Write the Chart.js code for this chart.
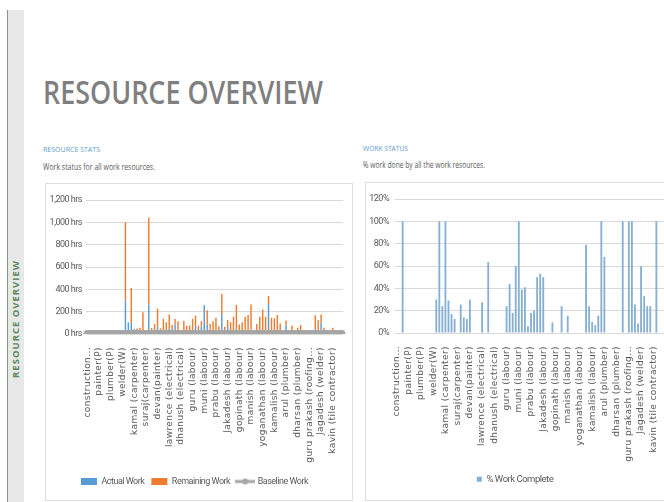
<!DOCTYPE html>
<html>
<head>
<meta charset="utf-8">
<script src="https://cdn.jsdelivr.net/npm/chart.js@4.4.1/dist/chart.umd.min.js"></script>
<style>
  html, body { margin: 0; padding: 0; background: #fff; }
  body { width: 664px; height: 502px; position: relative; overflow: hidden; font-family: "Open Sans", sans-serif; }
  .band { position: absolute; left: 7px; top: 10px; width: 16px; height: 492px; background: #e8e8e8; border-left: 1px solid #7f9a80; }
  .bandText { position: absolute; left: 15px; top: 319px; transform: translate(-50%, -50%) rotate(-90deg); color: #5c8a5c; font: bold 9.5px "Open Sans", sans-serif; letter-spacing: 1px; white-space: nowrap; }
  .txt { position: absolute; white-space: nowrap; transform-origin: 0 50%; }
  .title { left: 43px; top: 72px; font-size: 32px; font-weight: 600; color: #7f7f7f; line-height: 40px; }
  .sec { font-size: 8px; color: #5f9ccd; line-height: 10px; }
  .sub { font-size: 9px; color: #595959; line-height: 12px; }
  .box { position: absolute; border: 1px solid #dedede; background: #fff; }
  .box canvas { position: absolute; left: 0; top: 0; }
</style>
</head>
<body>
<div class="band"></div>
<div class="bandText">RESOURCE OVERVIEW</div>
<div class="txt title" id="title" data-w="280">RESOURCE OVERVIEW</div>
<div class="txt sec" style="left:43px;top:144px" data-w="57">RESOURCE STATS</div>
<div class="txt sub" style="left:43px;top:161px" data-w="112">Work status for all work resources.</div>
<div class="txt sec" style="left:363px;top:143px" data-w="45">WORK STATUS</div>
<div class="txt sub" style="left:363px;top:159px" data-w="122">% work done by all the work resources.</div>

<div class="box" style="left:45px;top:183px;width:306px;height:316px">
  <canvas id="statsChart" width="306" height="316"></canvas>
</div>
<div class="box" style="left:365px;top:182px;width:320px;height:317px">
  <canvas id="statusChart" width="299" height="317"></canvas>
</div>

<script>
// nombres visibles en el eje (uno cada 4 recursos)
const shownNames = ['construction...', 'painter(P)', 'plumber(P)', 'welder(W)', 'kamal (carpenter)',
  'suraj(carpenter)', 'devan(painter)', 'lawrence (electrical)', 'dhanush (electrical)', 'guru (labour)',
  'muni (labour)', 'prabu (labour)', 'Jakadesh (labour)', 'gopinath (labour)', 'manish (labour)',
  'yoganathan (labour)', 'kamalish (labour)', 'arul (plumber)', 'dharsan (plumber)',
  'guru prakash (roofing...', 'Jagadesh (welder)', 'kavin (tile contractor)'];
const resourceCount = 88;

// horas trabajadas
const actualWork = [0,0,6,0,0,0,0,0,0,0,
  0,0,0,300,105,99,45,15,9,24,
  0,266,8,11,68,0,0,0,48,0,
  86,0,0,0,0,0,32,73,14,69,
  258,83,37,7,26,14,180,34,63,0,
  0,25,0,0,37,0,41,0,0,0,
  0,0,269,35,14,12,15,12,82,0,
  0,0,0,0,10,0,8,10,43,10,
  105,18,7,7,0,10,0,0];

// horas restantes
const remainingWork = [0,0,0,0,0,0,0,0,0,0,
  0,0,0,700,0,314,0,35,46,171,
  0,776,47,79,160,50,135,105,126,80,
  49,115,0,118,75,75,103,92,61,46,
  0,130,53,108,119,56,180,31,62,105,
  155,235,85,105,118,170,224,0,90,155,
  220,155,71,110,126,158,80,0,38,0,
  75,0,55,80,0,0,0,0,125,113,
  70,37,23,23,55,0,0,0];

// linea base (todo en cero)
const baselineWork = [0,0,0,0,0,0,0,0,0,0,
  0,0,0,0,0,0,0,0,0,0,
  0,0,0,0,0,0,0,0,0,0,
  0,0,0,0,0,0,0,0,0,0,
  0,0,0,0,0,0,0,0,0,0,
  0,0,0,0,0,0,0,0,0,0,
  0,0,0,0,0,0,0,0,0,0,
  0,0,0,0,0,0,0,0,0,0,
  0,0,0,0,0,0,0,0];

// % de trabajo completo
const pctComplete = [0,0,100,0,0,0,0,0,0,0,
  0,0,0,30,100,24,100,29,17,12.5,
  0,25.5,14,12.5,30,0,0,0,27.5,0,
  63.5,0,0,0,0,0,24,44,18,60,
  100,39,41,6,18,20,50,53,50,0,
  0,9.5,0,0,24,0,15.5,0,0,0,
  0,0,79,24,10,7,15.5,100,68,0,
  0,0,0,0,100,0,100,100,25.5,8.5,
  60,33,24,24,0,100,0,0];

const hrsTicks = [0, 200, 400, 600, 800, 1000, 1200];
const pctTicks = [0, 20, 40, 60, 80, 100, 120];

const categories = [];
for (let i = 0; i < resourceCount; i++) {
  categories.push(i % 4 === 0 && shownNames[i / 4] ? shownNames[i / 4] : '');
}

// ajustar textos condensados al ancho del original
document.querySelectorAll('.txt').forEach(el => {
  const w = el.getBoundingClientRect().width;
  el.style.transform = 'scaleX(' + (el.dataset.w / w) + ')';
});

const gray = '#595959';
const narrow = 'Roboto, sans-serif';
const axisFont = { family: '"DejaVu Sans", sans-serif', size: 9 };

// texto angosto tipo Calibri, y etiquetas del eje x mas espaciadas
const squeeze = {
  id: 'squeeze',
  beforeLayout(chart) { chart.ctx.letterSpacing = '-0.5px'; },
  beforeDraw(chart) {
    chart.ctx.letterSpacing = '-0.5px';
    const sx = chart.scales.x;
    if (!sx._wide) {
      const orig = sx.drawLabels;
      sx.drawLabels = function (area) {
        const c = this.ctx;
        c.letterSpacing = '0.4px';
        orig.call(this, area);
        c.letterSpacing = '-0.5px';
      };
      sx._wide = true;
    }
  }
};

// eje x: alto fijo y sin margen extra a los lados
function fixX(height) {
  return s => {
    s.height = height;
    s.paddingLeft = 0;
    s.paddingRight = 0;
  };
}

// icono de la linea base para la leyenda
const baseIcon = document.createElement('canvas');
baseIcon.width = 20; baseIcon.height = 8;
const bctx = baseIcon.getContext('2d');
bctx.strokeStyle = '#a5a5a5'; bctx.lineWidth = 3;
bctx.beginPath(); bctx.moveTo(0, 4); bctx.lineTo(20, 4); bctx.stroke();
bctx.fillStyle = '#a5a5a5';
bctx.beginPath(); bctx.arc(10, 4, 3, 0, Math.PI * 2); bctx.fill();

const ctxStats = document.getElementById('statsChart').getContext('2d');
const statsChart = new Chart(ctxStats, {
  type: 'bar',
  plugins: [squeeze],
  data: {
    labels: categories,
    datasets: [{
      label: 'Actual Work',
      data: actualWork,
      backgroundColor: '#5b9bd5',
      barPercentage: 0.5,
      categoryPercentage: 1,
      order: 2
    }, {
      label: 'Remaining Work',
      data: remainingWork,
      backgroundColor: '#ed7d31',
      barPercentage: 0.5,
      categoryPercentage: 1,
      order: 2
    }, {
      type: 'line',
      label: 'Baseline Work',
      data: baselineWork,
      borderColor: '#a5a5a5',
      backgroundColor: '#a5a5a5',
      borderWidth: 3,
      pointRadius: 2.5,
      pointBackgroundColor: '#a5a5a5',
      pointBorderColor: '#a5a5a5',
      order: 1
    }]
  },
  options: {
    responsive: false,
    animation: false,
    layout: { padding: { top: 16, right: 9, bottom: 4, left: 0 } },
    plugins: {
      tooltip: { enabled: false },
      legend: {
        position: 'bottom',
        labels: {
          usePointStyle: true,
          pointStyleWidth: 16,
          boxHeight: 7,
          padding: 7,
          color: gray,
          font: { family: narrow, size: 9 },
          sort: (a, b) => a.datasetIndex - b.datasetIndex,
          generateLabels: chart => {
            const items = Chart.defaults.plugins.legend.labels.generateLabels(chart);
            items.forEach(it => {
              it.pointStyle = it.datasetIndex === 2 ? baseIcon : 'rect';
              it.lineWidth = 0;
            });
            return items;
          }
        }
      }
    },
    scales: {
      x: {
        stacked: true,
        grid: { display: false },
        border: { display: false },
        ticks: { autoSkip: false, minRotation: 90, maxRotation: 90, padding: 5, color: gray, font: axisFont },
        afterFit: fixX(136)
      },
      y: {
        stacked: true,
        min: 0,
        max: hrsTicks[hrsTicks.length - 1],
        afterBuildTicks: s => { s.ticks = hrsTicks.map(v => ({ value: v })); },
        grid: { color: '#d9d9d9', drawTicks: false },
        border: { display: false },
        ticks: {
          padding: 4,
          color: gray,
          font: { family: narrow, size: 9 },
          callback: v => v.toLocaleString('en-US') + ' hrs'
        },
        afterFit: s => { s.width = 40; }
      }
    }
  }
});

const ctxStatus = document.getElementById('statusChart').getContext('2d');
const statusChart = new Chart(ctxStatus, {
  type: 'bar',
  plugins: [squeeze],
  data: {
    labels: categories,
    datasets: [{
      label: '% Work Complete',
      data: pctComplete,
      backgroundColor: '#86afd4',
      barPercentage: 0.6,
      categoryPercentage: 1
    }]
  },
  options: {
    responsive: false,
    animation: false,
    layout: { padding: { top: 16, right: 1, bottom: 6, left: 0 } },
    plugins: {
      tooltip: { enabled: false },
      legend: {
        position: 'bottom',
        labels: {
          usePointStyle: true,
          pointStyle: 'rect',
          pointStyleWidth: 5,
          boxHeight: 5,
          padding: 10,
          color: gray,
          font: { family: narrow, size: 9.5 }
        }
      }
    },
    scales: {
      x: {
        grid: { display: false },
        border: { display: true, color: '#d9d9d9' },
        ticks: { autoSkip: false, minRotation: 90, maxRotation: 90, padding: 5, color: gray, font: axisFont },
        afterFit: fixX(131.5)
      },
      y: {
        min: 0,
        max: pctTicks[pctTicks.length - 1],
        afterBuildTicks: s => { s.ticks = pctTicks.map(v => ({ value: v })); },
        grid: { color: '#d9d9d9', drawTicks: false },
        border: { display: false },
        ticks: {
          padding: 6,
          color: gray,
          font: { family: narrow, size: 9 },
          callback: v => v + '%'
        },
        afterFit: s => { s.width = 29; }
      }
    }
  }
});
</script>
</body>
</html>
